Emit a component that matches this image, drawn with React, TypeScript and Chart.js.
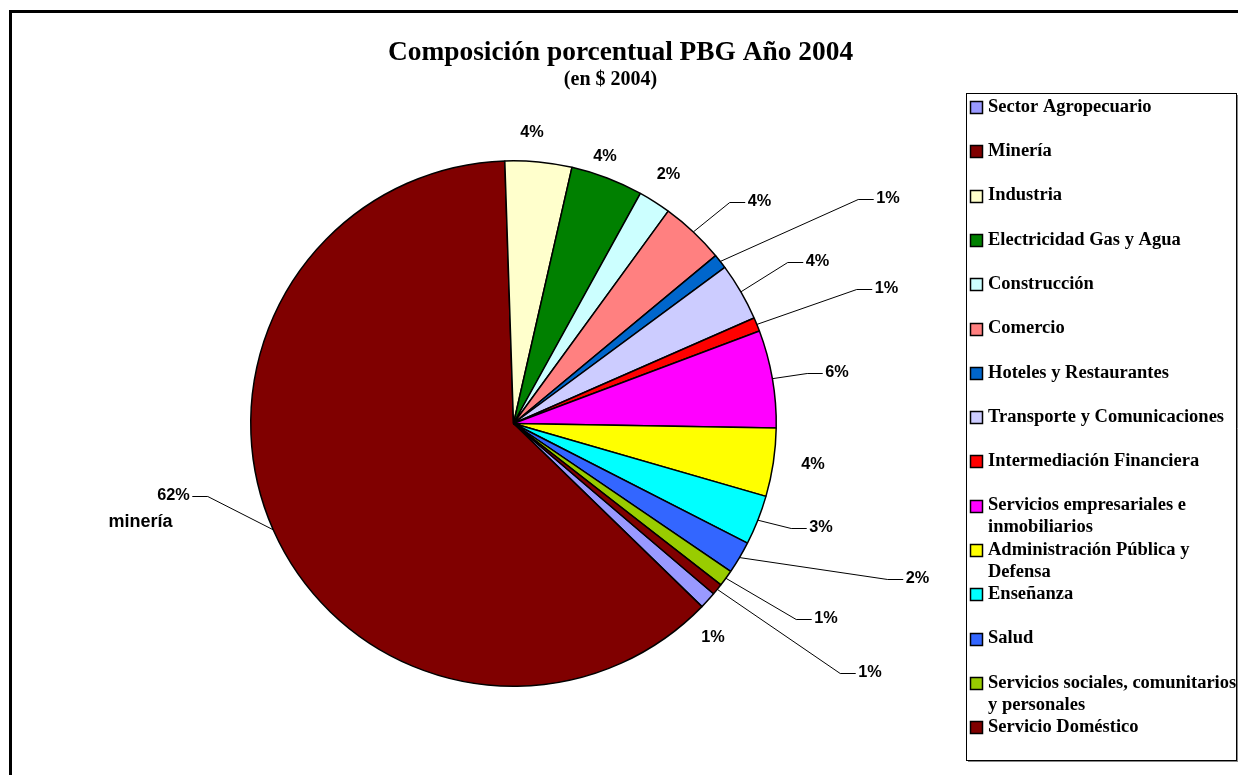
import React, { useEffect, useRef } from 'react';
import { Chart, registerables } from 'chart.js';

Chart.register(...registerables);

const TITLE = 'Composición porcentual PBG Año 2004';
const SUBTITLE = '(en $ 2004)';
const MINERIA_NOTE = 'minería';

const CATEGORIES = [
  'Sector Agropecuario',
  'Minería',
  'Industria',
  'Electricidad Gas y Agua',
  'Construcción',
  'Comercio',
  'Hoteles y Restaurantes',
  'Transporte y Comunicaciones',
  'Intermediación Financiera',
  'Servicios empresariales e inmobiliarios',
  'Administración Pública y Defensa',
  'Enseñanza',
  'Salud',
  'Servicios sociales, comunitarios y personales',
  'Servicio Doméstico',
];

// share of PBG, percent
const VALUES = [1.05, 62.2, 4.1, 4.45, 2.0, 3.95, 0.9, 3.55, 0.85, 6.0, 4.2, 3.05, 2.0, 1.0, 0.7];

const COLORS = [
  '#9999FF', '#800000', '#FFFFCC', '#008000', '#CCFFFF', '#FF8080', '#0066CC', '#CCCCFF',
  '#FF0000', '#FF00FF', '#FFFF00', '#00FFFF', '#3366FF', '#99CC00', '#800000',
];

// layout of the percentage labels (text centre) and whether a leader line is drawn
const LABEL_LAYOUT = [
  { x: 713, y: 638, leader: false },
  { x: 173.5, y: 496, leader: true, noteDx: -33, noteDy: 26 },
  { x: 532, y: 133, leader: false },
  { x: 605, y: 157, leader: false },
  { x: 668.5, y: 175, leader: false },
  { x: 759.5, y: 202, leader: true },
  { x: 888, y: 199, leader: true },
  { x: 817.5, y: 262, leader: true },
  { x: 886.5, y: 289, leader: true },
  { x: 837, y: 373, leader: true },
  { x: 813, y: 465, leader: false },
  { x: 821, y: 528, leader: true },
  { x: 917.5, y: 579, leader: true },
  { x: 826, y: 619, leader: true },
  { x: 870, y: 673, leader: true },
];

const SANS_BOLD = (px: number) => `bold ${px}px "Liberation Sans", Arial, sans-serif`;
const SERIF_BOLD = (px: number) => `bold ${px}px "Liberation Serif", "Times New Roman", serif`;

function wrap(ctx: CanvasRenderingContext2D, text: string, maxW: number): string[] {
  const words = text.split(' ');
  const lines: string[] = [];
  let cur = '';
  for (const w of words) {
    const t = cur ? cur + ' ' + w : w;
    if (ctx.measureText(t).width > maxW && cur) {
      lines.push(cur);
      cur = w;
    } else cur = t;
  }
  if (cur) lines.push(cur);
  return lines;
}

const overlay = {
  id: 'overlay',
  afterDraw(chart: any) {
    const ctx: CanvasRenderingContext2D = chart.ctx;
    ctx.save();

    // outer frame
    ctx.strokeStyle = '#000';
    ctx.lineWidth = 3;
    ctx.beginPath();
    ctx.moveTo(10.5, 775);
    ctx.lineTo(10.5, 11.5);
    ctx.lineTo(1238, 11.5);
    ctx.stroke();

    // title
    ctx.fillStyle = '#000';
    ctx.textAlign = 'center';
    ctx.textBaseline = 'alphabetic';
    ctx.font = SERIF_BOLD(27.4);
    ctx.fillText(TITLE, 620.5, 59.5);
    ctx.font = SERIF_BOLD(20);
    ctx.fillText(SUBTITLE, 610.5, 85);

    // labels
    const meta = chart.getDatasetMeta(0);
    const data: number[] = chart.data.datasets[0].data;
    const total = data.reduce((a, b) => a + b, 0);
    ctx.textBaseline = 'middle';
    ctx.lineWidth = 1;
    meta.data.forEach((arc: any, i: number) => {
      const L: any = LABEL_LAYOUT[i];
      const text = Math.round((data[i] / total) * 100) + '%';
      ctx.font = SANS_BOLD(16.3);
      const w = ctx.measureText(text).width;
      ctx.textAlign = 'center';
      ctx.fillText(text, L.x, L.y);
      if (L.noteDx !== undefined) {
        ctx.font = SANS_BOLD(18);
        ctx.fillText(MINERIA_NOTE, L.x + L.noteDx, L.y + L.noteDy);
      }
      if (L.leader) {
        const mid = (arc.startAngle + arc.endAngle) / 2;
        const sx = arc.x + Math.cos(mid) * arc.outerRadius;
        const sy = arc.y + Math.sin(mid) * arc.outerRadius;
        const left = L.x < arc.x;
        const edge = left ? L.x + w / 2 : L.x - w / 2;
        const dir = left ? 1 : -1;
        ctx.beginPath();
        ctx.moveTo(sx, sy);
        ctx.lineTo(edge + dir * 18, Math.round(L.y) + 0.5);
        ctx.lineTo(edge + dir * 2.5, Math.round(L.y) + 0.5);
        ctx.strokeStyle = '#000';
        ctx.stroke();
      }
    });

    // legend
    ctx.strokeStyle = '#000';
    ctx.lineWidth = 1;
    ctx.strokeRect(966.5, 93.5, 270, 667);
    ctx.strokeStyle = '#888';
    ctx.beginPath();
    ctx.moveTo(1237.5, 95);
    ctx.lineTo(1237.5, 762);
    ctx.moveTo(968, 761.5);
    ctx.lineTo(1238, 761.5);
    ctx.stroke();

    ctx.font = SERIF_BOLD(18.5);
    ctx.textAlign = 'left';
    ctx.textBaseline = 'middle';
    const labels: string[] = chart.data.labels;
    const colors: string[] = chart.data.datasets[0].backgroundColor;
    labels.forEach((lab, i) => {
      const y = 107 + i * 44.3;
      ctx.fillStyle = colors[i];
      ctx.fillRect(970.5, Math.round(y - 6) + 0.5, 12, 12);
      ctx.strokeStyle = '#000';
      ctx.lineWidth = 1.5;
      ctx.strokeRect(970.5, Math.round(y - 6) + 0.5, 12, 12);
      ctx.fillStyle = '#000';
      const lines = wrap(ctx, lab, 252);
      lines.forEach((ln, j) => ctx.fillText(ln, 988, y + j * 22));
    });

    ctx.restore();
  },
};

export default function App() {
  const ref = useRef<HTMLCanvasElement>(null);
  useEffect(() => {
    const canvas = ref.current!;
    const chart = new Chart(canvas, {
      type: 'pie',
      data: {
        labels: CATEGORIES,
        datasets: [
          {
            data: VALUES,
            backgroundColor: COLORS,
            borderColor: '#000',
            borderWidth: 1.5,
            hoverOffset: 0,
          },
        ],
      },
      options: {
        responsive: false,
        animation: false,
        rotation: 130.4,
        layout: { padding: { left: 250, right: 461, top: 160, bottom: 88 } },
        plugins: {
          legend: { display: false },
          title: { display: false },
          tooltip: { enabled: false },
        },
      },
      plugins: [overlay],
    } as any);
    return () => chart.destroy();
  }, []);
  return (
    <div style={{ position: 'fixed', left: 0, top: 0, width: 1238, height: 775, overflow: 'hidden', background: '#fff' }}>
      <canvas ref={ref} width={1238} height={775} style={{ display: 'block' }} />
    </div>
  );
}
